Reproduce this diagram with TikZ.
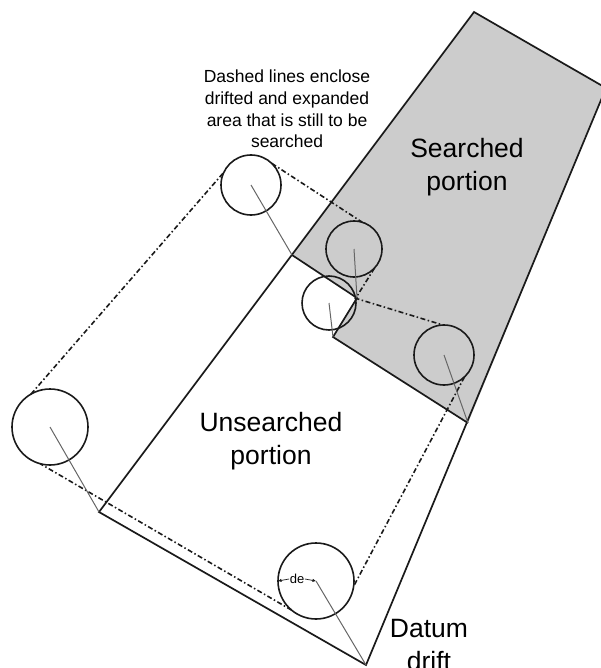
\documentclass[tikz,border=0pt]{standalone}
\usepackage{fontspec}
\setmainfont{Liberation Sans}
\usetikzlibrary{arrows.meta}
\definecolor{searchgray}{HTML}{CCCCCC}
\definecolor{ink}{HTML}{1A1A1A}
\definecolor{driftgray}{HTML}{666666}
\begin{document}
\begin{tikzpicture}[x=1pt,y=-1pt,
  edge/.style={draw=ink, line width=1.7pt, line join=miter},
  ring/.style={circle, draw=ink, line width=1.6pt, inner sep=0pt, outer sep=0pt},
  driftline/.style={draw=driftgray, line width=1pt},
  hull/.style={draw=ink, line width=1.6pt, dash pattern=on 5pt off 2.5pt on 1.5pt off 2.5pt},
  bigtext/.style={align=center, inner sep=0pt, font=\fontsize{26.5}{33}\selectfont},
  smalltext/.style={align=center, inner sep=0pt, font=\fontsize{17.5}{21.8}\selectfont},
  detext/.style={inner sep=0.5pt, font=\fontsize{13}{14}\selectfont},
  tip/.style={-{Latex[length=3.5pt,width=3.5pt]}, draw=ink, line width=0.7pt}]
\clip (0,0) rectangle (601,668);
% vertices
\coordinate (T) at (474,12);
\coordinate (R) at (606,88);
\coordinate (V1) at (292,255);
\coordinate (V2) at (357,298);
\coordinate (V3) at (333,337);
\coordinate (V4) at (468,423);
\coordinate (V5) at (99,512);
\coordinate (V6) at (366,665);
% searched portion
\fill[searchgray] (V1) -- (T) -- (R) -- (V4) -- (V3) -- (V2) -- cycle;
\draw[edge] (V5) -- (T) -- (R) -- (V6) -- cycle;
\draw[edge] (V1) -- (V2) -- (V3) -- (V4);
% circles
\node[ring, minimum size=60pt] (c1) at (251,185) {};
\node[ring, minimum size=56pt] (c2) at (354,249) {};
\node[ring, minimum size=54pt] (c3) at (329,303) {};
\node[ring, minimum size=60pt] (c4) at (444,355) {};
\node[ring, minimum size=76pt] (c5) at (50,427) {};
\node[ring, minimum size=76pt] (c6) at (316,581) {};
% dashed hull
\draw[hull] (c5.120) -- (c1.155);
\draw[hull] (c1.46) -- (c2.73.5);
\draw[hull] (c2.-43.5) -- (c3.10) -- (c4.92);
\draw[hull] (c4.-47.6) -- (c6.-8.7);
\draw[hull] (c6.230) -- (c5.255);
% drift lines
\draw[driftline] (c1.center) -- (V1);
\draw[driftline] (c2.center) -- (V2);
\draw[driftline] (c3.center) -- (V3);
\draw[driftline] (c4.center) -- (V4);
\draw[driftline] (c5.center) -- (V5);
\draw[driftline] (c6.center) -- (V6);
% de
\node[detext] (de) at (297,579) {de};
\draw[tip] (de.west) -- (c6.180);
\draw[tip] (de.east) -- (c6.center);
% texts
\node[smalltext] (note) at (287,109) {Dashed lines enclose\\drifted and expanded\\area that is still to be\\searched};
\node[bigtext] (searched) at (467,167) {Searched\\portion};
\node[bigtext] (unsearched) at (271,441) {Unsearched\\portion};
\node[bigtext] (datum) at (429,645) {Datum\\drift};
\end{tikzpicture}
\end{document}
